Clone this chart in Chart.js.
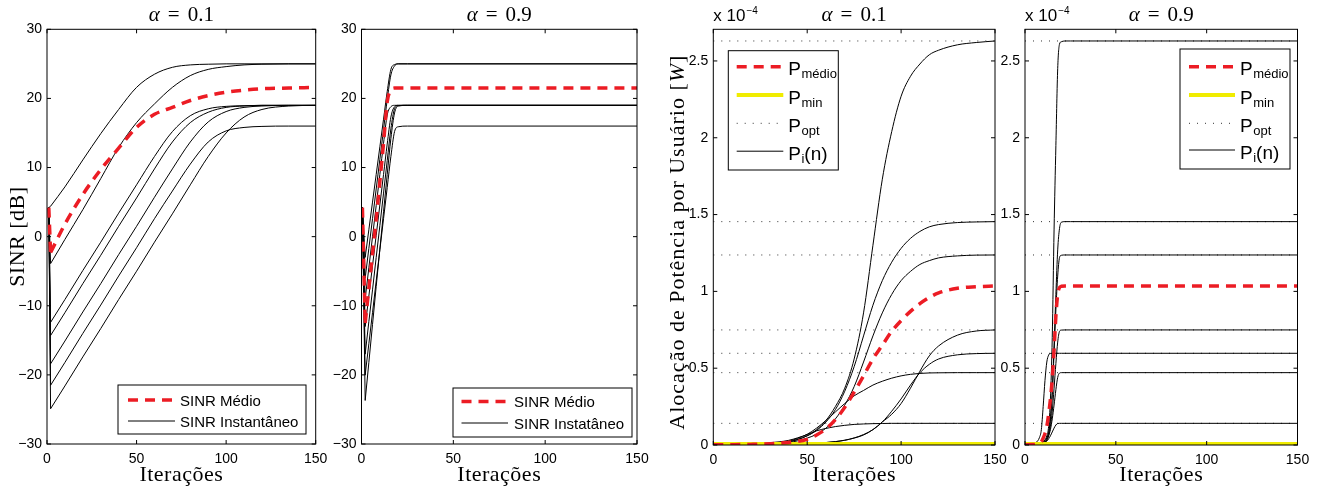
<!DOCTYPE html>
<html>
<head>
<meta charset="utf-8">
<script src="https://cdn.jsdelivr.net/npm/chart.js@4.4.1/dist/chart.umd.min.js"></script>
<style>
  body { margin: 0; background: #fff; }
  #wrap { position: relative; width: 1337px; height: 492px; }
  canvas { position: absolute; left: 0; top: 0; }
</style>
</head>
<body>
<div id="wrap">
  <canvas id="c1" width="1337" height="492"></canvas>
  <canvas id="c2" width="1337" height="492"></canvas>
  <canvas id="c3" width="1337" height="492"></canvas>
  <canvas id="c4" width="1337" height="492"></canvas>
</div>
<script>
// ---------- SINR, alpha = 0.1 (dB)
const sinrIt01 = [1, 2, 10, 20, 30, 40, 50, 60, 70, 80, 90, 100, 110, 120, 135, 150];
const sinr01U1 = [4.2, 4.4, 7.2, 11.1, 14.9, 18.4, 21.6, 23.5, 24.5, 24.85, 24.95, 25, 25, 25, 25, 25];
const sinr01U2 = [4.2, -3.9, -0.4, 3.9, 8.4, 12.9, 16.5, 19.2, 21.6, 23.3, 24.2, 24.6, 24.85, 24.95, 25, 25];
const sinr01U3 = [4.2, -12.4, -9.1, -4.9, -0.8, 3.4, 7.5, 11.6, 15.2, 17.5, 18.5, 18.85, 18.95, 19, 19, 19];
const sinr01U4 = [4.2, -14.3, -11.0, -6.8, -2.7, 1.5, 5.6, 9.8, 13.7, 16.5, 18.0, 18.7, 18.9, 19, 19, 19];
const sinr01U5 = [4.2, -18.4, -15.1, -10.9, -6.8, -2.6, 1.5, 5.7, 9.8, 13.7, 16.6, 18.1, 18.7, 18.9, 19, 19];
const sinr01U6 = [4.2, -21.5, -18.2, -14.0, -9.9, -5.7, -1.6, 2.6, 6.6, 10.5, 13.7, 15.3, 15.8, 15.95, 16, 16];
const sinr01U7 = [4.2, -24.9, -21.6, -17.4, -13.3, -9.1, -5.0, -0.8, 3.3, 7.5, 11.6, 15.0, 17.3, 18.4, 18.9, 19];
const sinr01Medio = [4.2, -2.3, 1.8, 6.1, 9.7, 12.8, 15.8, 17.7, 18.7, 19.7, 20.4, 20.9, 21.2, 21.4, 21.5, 21.6];

// ---------- SINR, alpha = 0.9 (dB)
const sinrIt09 = [0.5, 2, 4, 6, 8, 10, 12, 14, 16, 18, 20, 25, 150];
const sinr09U1 = [4.2, -3, 1, 5, 9, 13, 17, 21, 24.2, 24.9, 25, 25, 25];
const sinr09U2 = [4.2, -6, -1.7, 2.6, 6.9, 11.2, 15.5, 19.8, 23.4, 24.7, 25, 25, 25];
const sinr09U3 = [4.2, -9, -4.5, 0, 4.5, 9, 13.5, 17.6, 18.8, 19, 19, 19, 19];
const sinr09U4 = [4.2, -13, -8.6, -4.2, 0.2, 4.6, 9, 13.4, 17.3, 18.8, 19, 19, 19];
const sinr09U5 = [4.2, -17, -12.3, -7.7, -3, 1.6, 6.3, 11, 15.6, 18.5, 18.95, 19, 19];
const sinr09U6 = [4.2, -20, -15.5, -11, -6.4, -1.9, 2.6, 7.1, 11.6, 15.2, 15.9, 16, 16];
const sinr09U7 = [4.2, -23.7, -18.2, -12.7, -7.2, -1.8, 3.6, 9, 14.2, 17.9, 18.9, 19, 19];
const sinr09Medio = [4.2, -12.5, -7.5, -2.5, 2.5, 8, 13.5, 19.5, 21.2, 21.5, 21.5, 21.5, 21.5];

// ---------- power, alpha = 0.1 (x 1e-4 W)
const powIt01 = [0, 10, 20, 30, 40, 50, 55, 60, 65, 70, 75, 80, 85, 90, 95, 100, 105, 110, 115, 120, 130, 140, 150];
const pow01U1 = [0.001, 0.002, 0.004, 0.008, 0.02, 0.06, 0.1, 0.16, 0.25, 0.37, 0.56, 0.86, 1.3, 1.73, 2.04, 2.27, 2.4, 2.48, 2.54, 2.57, 2.605, 2.62, 2.63];
const pow01U2 = [0.001, 0.002, 0.004, 0.008, 0.02, 0.06, 0.095, 0.15, 0.23, 0.35, 0.51, 0.71, 0.91, 1.07, 1.19, 1.28, 1.345, 1.39, 1.42, 1.435, 1.448, 1.452, 1.454];
const pow01U3 = [0.001, 0.002, 0.004, 0.007, 0.015, 0.045, 0.07, 0.11, 0.17, 0.26, 0.38, 0.54, 0.71, 0.86, 0.98, 1.07, 1.13, 1.175, 1.2, 1.218, 1.231, 1.236, 1.237];
const pow01U4 = [0, 0.001, 0.002, 0.003, 0.005, 0.009, 0.012, 0.016, 0.022, 0.031, 0.045, 0.065, 0.1, 0.15, 0.2, 0.27, 0.37, 0.48, 0.58, 0.645, 0.715, 0.742, 0.749];
const pow01U5 = [0, 0.001, 0.002, 0.003, 0.005, 0.009, 0.012, 0.016, 0.022, 0.031, 0.046, 0.068, 0.1, 0.15, 0.22, 0.3, 0.39, 0.47, 0.525, 0.56, 0.587, 0.595, 0.597];
const pow01U6 = [0.001, 0.002, 0.005, 0.01, 0.025, 0.07, 0.11, 0.16, 0.215, 0.27, 0.32, 0.355, 0.39, 0.415, 0.435, 0.45, 0.46, 0.466, 0.469, 0.47, 0.471, 0.471, 0.471];
const pow01U7 = [0.001, 0.003, 0.008, 0.015, 0.03, 0.068, 0.092, 0.108, 0.12, 0.128, 0.134, 0.137, 0.139, 0.14, 0.141, 0.141, 0.141, 0.141, 0.141, 0.141, 0.141, 0.141, 0.141];
const pow01Medio = [0.001, 0.002, 0.004, 0.008, 0.017, 0.037, 0.065, 0.105, 0.165, 0.245, 0.345, 0.45, 0.56, 0.65, 0.74, 0.81, 0.87, 0.92, 0.96, 0.99, 1.02, 1.03, 1.035];

// ---------- power, alpha = 0.9 (x 1e-4 W)
const powIt09 = [0, 4, 6, 8, 9, 10, 11, 12, 13, 14, 15, 16, 17, 18, 19, 20, 22, 25, 150];
const pow09U1 = [0.001, 0.002, 0.004, 0.008, 0.012, 0.02, 0.035, 0.06, 0.12, 0.3, 0.7, 1.4, 1.95, 2.45, 2.61, 2.625, 2.63, 2.63, 2.63];
const pow09U2 = [0.001, 0.002, 0.004, 0.008, 0.012, 0.018, 0.028, 0.045, 0.08, 0.17, 0.35, 0.65, 0.98, 1.27, 1.41, 1.45, 1.454, 1.454, 1.454];
const pow09U3 = [0.001, 0.002, 0.004, 0.008, 0.012, 0.018, 0.028, 0.045, 0.08, 0.17, 0.33, 0.6, 0.88, 1.1, 1.22, 1.235, 1.237, 1.237, 1.237];
const pow09U4 = [0.001, 0.002, 0.003, 0.006, 0.009, 0.014, 0.021, 0.033, 0.06, 0.12, 0.22, 0.37, 0.53, 0.67, 0.74, 0.748, 0.749, 0.749, 0.749];
const pow09U5 = [0.001, 0.005, 0.015, 0.05, 0.1, 0.25, 0.42, 0.54, 0.585, 0.596, 0.597, 0.597, 0.597, 0.597, 0.597, 0.597, 0.597, 0.597, 0.597];
const pow09U6 = [0.001, 0.002, 0.003, 0.006, 0.009, 0.013, 0.02, 0.032, 0.06, 0.1, 0.17, 0.26, 0.36, 0.44, 0.468, 0.471, 0.471, 0.471, 0.471];
const pow09U7 = [0.001, 0.002, 0.003, 0.005, 0.007, 0.01, 0.015, 0.025, 0.04, 0.06, 0.085, 0.11, 0.13, 0.14, 0.141, 0.141, 0.141, 0.141, 0.141];
const pow09Medio = [0.001, 0.003, 0.005, 0.012, 0.02, 0.045, 0.075, 0.12, 0.2, 0.3, 0.43, 0.62, 0.84, 0.98, 1.025, 1.033, 1.035, 1.035, 1.035];

const pOpt = [2.63, 1.454, 1.237, 0.749, 0.597, 0.471, 0.141];
const pMin = 0.007;

const sinrTicks = [-30, -20, -10, 0, 10, 20, 30];
const powTicks = [0, 0.5, 1, 1.5, 2, 2.5];
const iterTicks = [0, 50, 100, 150];

// ---------- styles
const W = 1337, H = 492;
const RED = '#ec1c24', YEL = '#f0ec00', INK = '#000';
const SANS = '"Liberation Sans", Arial, sans-serif';
const SERIF = '"Liberation Serif", "Times New Roman", serif';

const STYLE = {
  red:    { borderColor: RED, borderWidth: 3.5, borderDash: [10, 7] },
  black:  { borderColor: INK, borderWidth: 1, borderDash: [] },
  yellow: { borderColor: YEL, borderWidth: 4, borderDash: [] },
  dot:    { borderColor: '#333', borderWidth: 1, borderDash: [1, 7] }
};
const ORDER = { red: 0, yellow: 1, black: 2, dot: 3 };

function series(xs, ys, kind, straight) {
  return Object.assign({
    data: xs.map((x, i) => ({ x: x, y: ys[i] })),
    order: ORDER[kind],
    pointRadius: 0,
    fill: false,
    tension: 0,
    cubicInterpolationMode: straight ? 'default' : 'monotone'
  }, STYLE[kind]);
}

// SINR curves: straight first drop, then smooth rise from the minimum
function sinrSeries(xs, ys, kind) {
  return [
    series(xs.slice(0, 2), ys.slice(0, 2), kind, true),
    series(xs.slice(1), ys.slice(1), kind, false)
  ];
}

function strokeSample(ctx, kind, x0, x1, y) {
  const s = STYLE[kind];
  ctx.save();
  ctx.strokeStyle = s.borderColor;
  ctx.lineWidth = s.borderWidth;
  ctx.setLineDash(s.borderDash);
  ctx.beginPath();
  ctx.moveTo(x0, y);
  ctx.lineTo(x1, y);
  ctx.stroke();
  ctx.restore();
}

// parts: [text, font, dy, gapAfter]
function drawParts(ctx, parts, x, y, align) {
  let w = 0;
  parts.forEach(p => { ctx.font = p[1]; w += ctx.measureText(p[0]).width + (p[3] || 0); });
  let cx = align === 'center' ? x - w / 2 : x;
  ctx.textAlign = 'left';
  parts.forEach(p => {
    ctx.font = p[1];
    ctx.fillText(p[0], cx, y + (p[2] || 0));
    cx += ctx.measureText(p[0]).width + (p[3] || 0);
  });
}

const decor = {
  id: 'decor',
  afterDraw(chart, args, o) {
    const ctx = chart.ctx, a = chart.chartArea;
    const xs = chart.scales.x, ys = chart.scales.y;
    ctx.save();
    ctx.fillStyle = '#000';
    ctx.textBaseline = 'alphabetic';

    // box + inner ticks
    ctx.strokeStyle = INK;
    ctx.lineWidth = 1;
    ctx.setLineDash([]);
    ctx.strokeRect(a.left, a.top, a.right - a.left, a.bottom - a.top);
    ctx.beginPath();
    xs.ticks.forEach(t => {
      const px = xs.getPixelForValue(t.value);
      ctx.moveTo(px, a.bottom); ctx.lineTo(px, a.bottom - 4);
      ctx.moveTo(px, a.top); ctx.lineTo(px, a.top + 4);
    });
    ys.ticks.forEach(t => {
      const py = ys.getPixelForValue(t.value);
      ctx.moveTo(a.left, py); ctx.lineTo(a.left + 4, py);
      ctx.moveTo(a.right, py); ctx.lineTo(a.right - 4, py);
    });
    ctx.stroke();

    const cx = (a.left + a.right) / 2;

    // title
    drawParts(ctx, [
      ['\u03b1', 'italic 21px ' + SERIF, 0, 8],
      ['=', '21px ' + SERIF, 0, 8],
      [o.alpha, '21px ' + SERIF, 0, 0]
    ], cx, 21, 'center');

    // x title
    ctx.letterSpacing = '0.5px';
    drawParts(ctx, [['Itera\u00e7\u00f5es', '22px ' + SERIF]], cx, 481, 'center');

    // y title
    if (o.yTitle) {
      ctx.save();
      ctx.translate(o.yTitleX, (a.top + a.bottom) / 2 + (o.yTitleDy || 0));
      ctx.rotate(-Math.PI / 2);
      ctx.letterSpacing = o.yTitleSpacing || '0.5px';
      drawParts(ctx, o.yTitle, 0, 7, 'center');
      ctx.restore();
    }
    ctx.letterSpacing = '0px';

    // exponent label
    if (o.exp) {
      drawParts(ctx, [['x 10', '17px ' + SANS, 0, 1], ['\u22124', '10px ' + SANS, -7, 0]], a.left, 21, 'left');
    }

    // legend
    const L = o.legend;
    ctx.fillStyle = '#fff';
    ctx.fillRect(L.x, L.y, L.w, L.h);
    ctx.strokeStyle = INK;
    ctx.lineWidth = 1;
    ctx.strokeRect(L.x, L.y, L.w, L.h);
    ctx.fillStyle = '#000';
    L.items.forEach((it, i) => {
      const ry = L.y + L.rows[i];
      strokeSample(ctx, it.kind, L.x + L.s0, L.x + L.s1, ry);
      drawParts(ctx, it.parts, L.x + L.tx, ry + L.base, 'left');
    });
    ctx.restore();
  }
};

function makePanel(id, rect, yMin, yMax, datasets, deco) {
  const tickFont = { family: SANS, size: 14 };
  return new Chart(document.getElementById(id), {
    type: 'line',
    data: { datasets: datasets },
    options: {
      responsive: false,
      animation: false,
      devicePixelRatio: 1,
      events: [],
      layout: { padding: { left: rect.l - 40, right: W - rect.r, top: rect.t, bottom: H - rect.b - 30 } },
      scales: {
        x: {
          type: 'linear', min: 0, max: 150,
          afterBuildTicks: s => { s.ticks = iterTicks.map(v => ({ value: v })); },
          ticks: { padding: 7, font: tickFont, color: '#000', maxRotation: 0, autoSkip: false },
          grid: { display: false, drawTicks: false },
          border: { display: false },
          afterFit: s => { s.height = 30; }
        },
        y: {
          type: 'linear', min: yMin, max: yMax,
          afterBuildTicks: s => { s.ticks = deco.yTicks.map(v => ({ value: v })); },
          ticks: {
            padding: 5, font: tickFont, color: '#000', autoSkip: false,
            callback: v => String(+v.toFixed(2)).replace('-', '\u2212')
          },
          grid: { display: false, drawTicks: false },
          border: { display: false },
          afterFit: s => { s.width = 40; }
        }
      },
      plugins: { legend: { display: false }, tooltip: { enabled: false }, decor: deco }
    },
    plugins: [decor]
  });
}

const sans15 = '15px ' + SANS;
const pFont = '19px ' + SANS, subFont = '13px ' + SANS;

function sinrSets(xs, medio, users) {
  return [
    ...sinrSeries(xs, medio, 'red'),
    ...users.flatMap(u => sinrSeries(xs, u, 'black'))
  ];
}

// panel 1
makePanel('c1', { l: 47, r: 315.7, t: 29.3, b: 444 }, -30, 30,
  sinrSets(sinrIt01, sinr01Medio, [sinr01U1, sinr01U2, sinr01U3, sinr01U4, sinr01U5, sinr01U6, sinr01U7]), {
  alpha: '0.1', yTicks: sinrTicks,
  yTitle: [['SINR [dB]', '22px ' + SERIF]], yTitleX: 17,
  legend: { x: 118, y: 385, w: 188, h: 49, rows: [15, 36], s0: 10, s1: 57, tx: 62, base: 5.5,
    items: [
      { kind: 'red', parts: [['SINR M\u00e9dio', sans15]] },
      { kind: 'black', parts: [['SINR Instant\u00e2neo', sans15]] }
    ] }
});

// panel 2
makePanel('c2', { l: 361.5, r: 637, t: 29.3, b: 444 }, -30, 30,
  sinrSets(sinrIt09, sinr09Medio, [sinr09U1, sinr09U2, sinr09U3, sinr09U4, sinr09U5, sinr09U6, sinr09U7]), {
  alpha: '0.9', yTicks: sinrTicks,
  legend: { x: 453, y: 388, w: 179, h: 49, rows: [13.5, 35], s0: 8.5, s1: 55, tx: 61, base: 5.5,
    items: [
      { kind: 'red', parts: [['SINR M\u00e9dio', sans15]] },
      { kind: 'black', parts: [['SINR Instat\u00e2neo', sans15]] }
    ] }
});

const powLegend = [
  { kind: 'red', parts: [['P', pFont, 0, 0.5], ['m\u00e9dio', subFont, 3]] },
  { kind: 'yellow', parts: [['P', pFont, 0, 0.5], ['min', subFont, 3]] },
  { kind: 'dot', parts: [['P', pFont, 0, 0.5], ['opt', subFont, 3]] },
  { kind: 'black', parts: [['P', pFont, 0, 0.5], ['i', subFont, 3], ['(n)', pFont, 0]] }
];

function powerSets(xs, medio, users) {
  return [
    series(xs, medio, 'red'),
    series([0, 150], [pMin, pMin], 'yellow'),
    ...users.map(u => series(xs, u, 'black')),
    ...pOpt.map(p => series([0, 150], [p, p], 'dot'))
  ];
}

// panel 3
makePanel('c3', { l: 713.3, r: 995, t: 29.3, b: 445 }, 0, 2.706,
  powerSets(powIt01, pow01Medio, [pow01U1, pow01U2, pow01U3, pow01U4, pow01U5, pow01U6, pow01U7]), {
  alpha: '0.1', yTicks: powTicks, exp: true,
  yTitle: [['Aloca\u00e7\u00e3o de Pot\u00eancia por Usu\u00e1rio [', '22px ' + SERIF], ['W', 'italic 22px ' + SERIF], [']', '22px ' + SERIF]],
  yTitleX: 677, yTitleDy: 5, yTitleSpacing: '1px',
  legend: { x: 728.3, y: 50.7, w: 110, h: 119.3, rows: [16, 44.3, 72.6, 100.5], s0: 8.4, s1: 55, tx: 60, base: 8.5, items: powLegend }
});

// panel 4
makePanel('c4', { l: 1025, r: 1297.5, t: 29.3, b: 445 }, 0, 2.706,
  powerSets(powIt09, pow09Medio, [pow09U1, pow09U2, pow09U3, pow09U4, pow09U5, pow09U6, pow09U7]), {
  alpha: '0.9', yTicks: powTicks, exp: true,
  legend: { x: 1180, y: 49, w: 110, h: 120, rows: [17.7, 46, 74.3, 101], s0: 9, s1: 55, tx: 60, base: 8.5, items: powLegend }
});
</script>
</body>
</html>
